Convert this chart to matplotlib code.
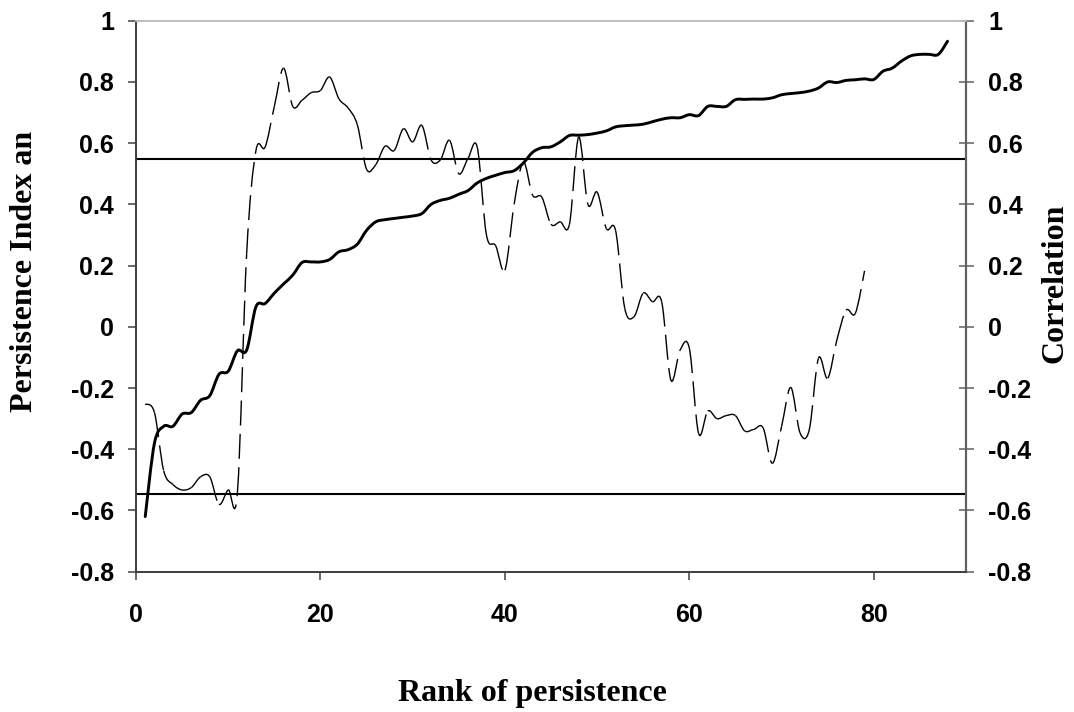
import numpy as np
import matplotlib
matplotlib.use("Agg")
import matplotlib.pyplot as plt
from matplotlib.path import Path
from matplotlib.patches import PathPatch

# ---- data -------------------------------------------------------------
rank_index = list(range(1, 89))
persistence_index = [
    -0.62, -0.38, -0.325, -0.325, -0.285, -0.28, -0.24, -0.225, -0.155, -0.145,
    -0.078, -0.076, 0.065, 0.076, 0.11, 0.14, 0.169, 0.21, 0.212, 0.212,
    0.22, 0.245, 0.252, 0.27, 0.315, 0.343, 0.35, 0.354, 0.358, 0.362,
    0.37, 0.40, 0.413, 0.42, 0.433, 0.445, 0.47, 0.485, 0.495, 0.504,
    0.51, 0.535, 0.57, 0.585, 0.588, 0.604, 0.625, 0.626, 0.628, 0.633,
    0.64, 0.653, 0.657, 0.659, 0.662, 0.67, 0.678, 0.683, 0.683, 0.693,
    0.69, 0.72, 0.72, 0.72, 0.742, 0.743, 0.744, 0.744, 0.748, 0.758,
    0.762, 0.765, 0.77, 0.78, 0.80, 0.798, 0.805, 0.807, 0.81, 0.808,
    0.835, 0.845, 0.868, 0.885, 0.89, 0.89, 0.89, 0.933,
]

rank_corr = list(range(1, 80))
correlation = [
    -0.252, -0.28, -0.47, -0.515, -0.533, -0.525, -0.49, -0.49, -0.58, -0.533,
    -0.54, 0.24, 0.575, 0.587, 0.72, 0.845, 0.72, 0.74, 0.765, 0.772,
    0.816, 0.745, 0.715, 0.66, 0.515, 0.53, 0.59, 0.576, 0.647, 0.604,
    0.658, 0.545, 0.545, 0.609, 0.50, 0.55, 0.587, 0.30, 0.265, 0.185,
    0.40, 0.538, 0.43, 0.424, 0.335, 0.343, 0.335, 0.62, 0.40, 0.44,
    0.321, 0.315, 0.06, 0.033, 0.11, 0.082, 0.082, -0.174, -0.076, -0.07,
    -0.348, -0.275, -0.30, -0.29, -0.29, -0.34, -0.335, -0.33, -0.446, -0.326,
    -0.198, -0.346, -0.337, -0.103, -0.168, -0.043, 0.054, 0.044, 0.183,
]

critical_value = 0.547

y_ticks = [-0.8, -0.6, -0.4, -0.2, 0.0, 0.2, 0.4, 0.6, 0.8, 1.0]
y_tick_labels = ["-0.8", "-0.6", "-0.4", "-0.2", "0", "0.2", "0.4", "0.6", "0.8", "1"]
x_ticks = [0, 20, 40, 60, 80]
x_tick_labels = ["0", "20", "40", "60", "80"]

left_label = "Persistence Index an"
right_label = "Correlation"
bottom_label = "Rank of persistence"


# ---- helpers ----------------------------------------------------------
def bezier_segments(x, y):
    """Smoothed-line control points (Catmull-Rom converted to cubic Bezier)."""
    pts = np.column_stack([x, y]).astype(float)
    n = len(pts)
    segs = []
    for i in range(n - 1):
        p0 = pts[i - 1] if i > 0 else pts[i]
        p1 = pts[i]
        p2 = pts[i + 1]
        p3 = pts[i + 2] if i + 2 < n else pts[i + 1]
        c1 = p1 + (p2 - p0) / 6.0
        c2 = p2 - (p3 - p1) / 6.0
        segs.append((p1, c1, c2, p2))
    return segs


# ---- figure -----------------------------------------------------------
W, H, DPI = 1074, 712, 100
fig = plt.figure(figsize=(W / DPI, H / DPI), dpi=DPI)
fig.patch.set_facecolor("white")

ax_l, ax_r, ax_t, ax_b = 136, 966, 20.7, 571.7
ax = fig.add_axes([ax_l / W, 1 - ax_b / H, (ax_r - ax_l) / W, (ax_b - ax_t) / H])
ax2 = ax.twinx()

for a in (ax, ax2):
    a.set_xlim(0, 90)
    a.set_ylim(-0.8, 1.0)
    a.set_facecolor("none")

tick_font = dict(family="Liberation Sans", weight="bold", size=18)

ax.set_yticks(y_ticks)
ax.set_yticklabels(y_tick_labels, **tick_font)
ax2.set_yticks(y_ticks)
ax2.set_yticklabels(y_tick_labels, **tick_font)
ax.set_xticks(x_ticks)
ax.set_xticklabels(x_tick_labels, **tick_font)

ax.tick_params(axis="y", direction="out", length=5.8, width=1.1, color="#404040", pad=10)
ax.tick_params(axis="x", direction="out", length=5.8, width=1.1, color="#404040", pad=16.5)
ax2.tick_params(axis="y", direction="inout", length=10.8, width=1.1, color="#606060", pad=10.4)

for a in (ax, ax2):
    a.spines["top"].set_color("#c0c0c0")
    a.spines["top"].set_linewidth(1.3)
    a.spines["left"].set_color("#404040")
    a.spines["left"].set_linewidth(1.3)
    a.spines["right"].set_color("#606060")
    a.spines["right"].set_linewidth(1.5)
    a.spines["bottom"].set_color("#404040")
    a.spines["bottom"].set_linewidth(1.3)

# critical-value lines
for v in (critical_value, -critical_value):
    ax2.axhline(v, color="black", lw=1.5, zorder=2)

# persistence index: thick smoothed solid line
segs = bezier_segments(rank_index, persistence_index)
verts = [segs[0][0]]
codes = [Path.MOVETO]
for p1, c1, c2, p2 in segs:
    verts += [c1, c2, p2]
    codes += [Path.CURVE4] * 3
ax.add_patch(PathPatch(Path(verts, codes), fill=False, lw=2.1,
                       edgecolor="black", capstyle="round", joinstyle="round",
                       zorder=4))

# correlation: thin smoothed long-dash line, dash pattern restarting per segment
for p1, c1, c2, p2 in bezier_segments(rank_corr, correlation):
    ax2.add_patch(PathPatch(Path([p1, c1, c2, p2],
                                 [Path.MOVETO, Path.CURVE4, Path.CURVE4, Path.CURVE4]),
                            fill=False, lw=1.0, edgecolor="black",
                            linestyle=(0, (18, 6)), capstyle="butt", zorder=3))

ax.set_xlim(0, 90)
ax.set_ylim(-0.8, 1.0)
ax2.set_ylim(-0.8, 1.0)

label_font = dict(family="Liberation Serif", weight="bold", size=23)
fig.text(25 / W, 1 - 271 / H, left_label, rotation=90, ha="center", va="center", **label_font)
fig.text(1055 / W, 1 - 283.5 / H, right_label, rotation=90, ha="center", va="center", **label_font)
fig.text(532 / W, 1 - 693 / H, bottom_label, ha="center", va="center", **label_font)

fig.savefig("out.png", dpi=DPI)
